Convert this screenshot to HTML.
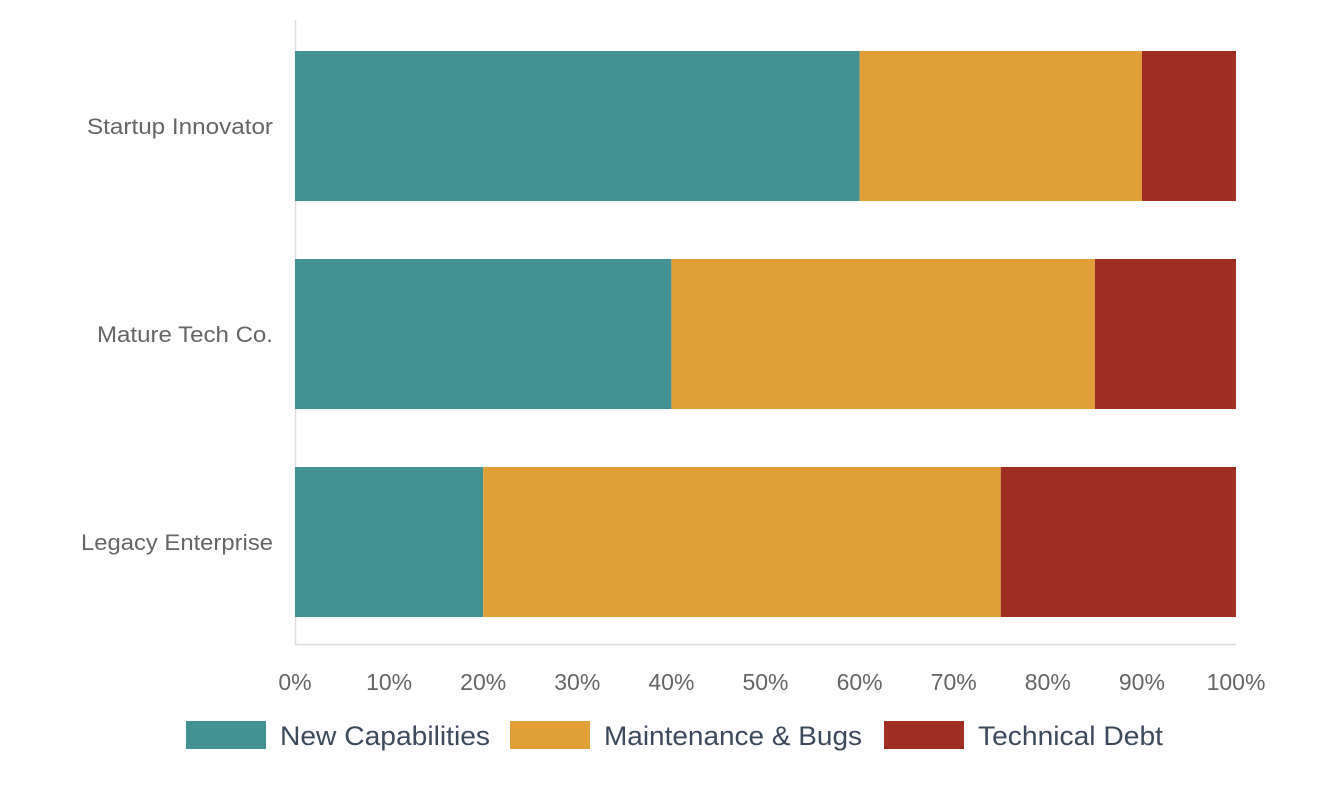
<!DOCTYPE html>
<html><head><meta charset="utf-8"><style>
body{margin:0;background:#fff;}
svg{display:block;font-family:"Liberation Sans",Arial,sans-serif;}
</style></head><body>
<svg width="1320" height="806" id="chart">
<line x1="295.5" y1="20" x2="295.5" y2="644" stroke="#ddd" stroke-width="1.5"/>
<line x1="295" y1="644.5" x2="1236" y2="644.5" stroke="#ddd" stroke-width="1.5"/>
</svg>
<script>
const categories=["Startup Innovator","Mature Tech Co.","Legacy Enterprise"];
const newCap=[60,40,20];
const maint=[30,45,55];
const debt=[10,15,25];
const seriesNames=["New Capabilities","Maintenance & Bugs","Technical Debt"];
const ticks=[0,10,20,30,40,50,60,70,80,90,100];
const svg=document.getElementById('chart');
const NS='http://www.w3.org/2000/svg';
const x0=295,x1=1236;
const xs=v=>x0+(x1-x0)*v/100;
const bandTop=20,bandH=208;
const yb=i=>bandTop+31+i*bandH;
const colors=["#429193","#e1a037","#9e2e21"];
const series=[newCap,maint,debt];
const labW=[186,176,192];
function mk(t,a){const e=document.createElementNS(NS,t);for(const k in a)e.setAttribute(k,a[k]);svg.appendChild(e);return e;}
categories.forEach((c,i)=>{
  let acc=0;
  series.forEach((s,j)=>{
    const r=mk('rect',{x:xs(acc),y:yb(i),width:xs(acc+s[i])-xs(acc),height:150,fill:colors[j]});
    
    
    acc+=s[i];
  });
  const t=mk('text',{x:273,y:yb(i)+83,'text-anchor':'end','font-size':22.5,fill:'#666'});
  t.textContent=c;
  t.setAttribute('textLength',labW[i]);
  t.setAttribute('lengthAdjust','spacingAndGlyphs');
  
  
});
ticks.forEach(v=>{
  const t=mk('text',{x:xs(v),y:690,'text-anchor':'middle','font-size':23,fill:'#666'});
  t.textContent=v+'%';
  
  
});
const legX=[186,510,884];
const legW=[210,258,185];
seriesNames.forEach((n,j)=>{
  const r=mk('rect',{x:legX[j],y:721,width:80,height:28,fill:colors[j]});
  
  
  const t=mk('text',{x:legX[j]+94,y:745,'font-size':27,fill:'#3d4a5c'});
  t.textContent=n;
  t.setAttribute('textLength',legW[j]);
  t.setAttribute('lengthAdjust','spacingAndGlyphs');
  
  
});
</script>
</body></html>
